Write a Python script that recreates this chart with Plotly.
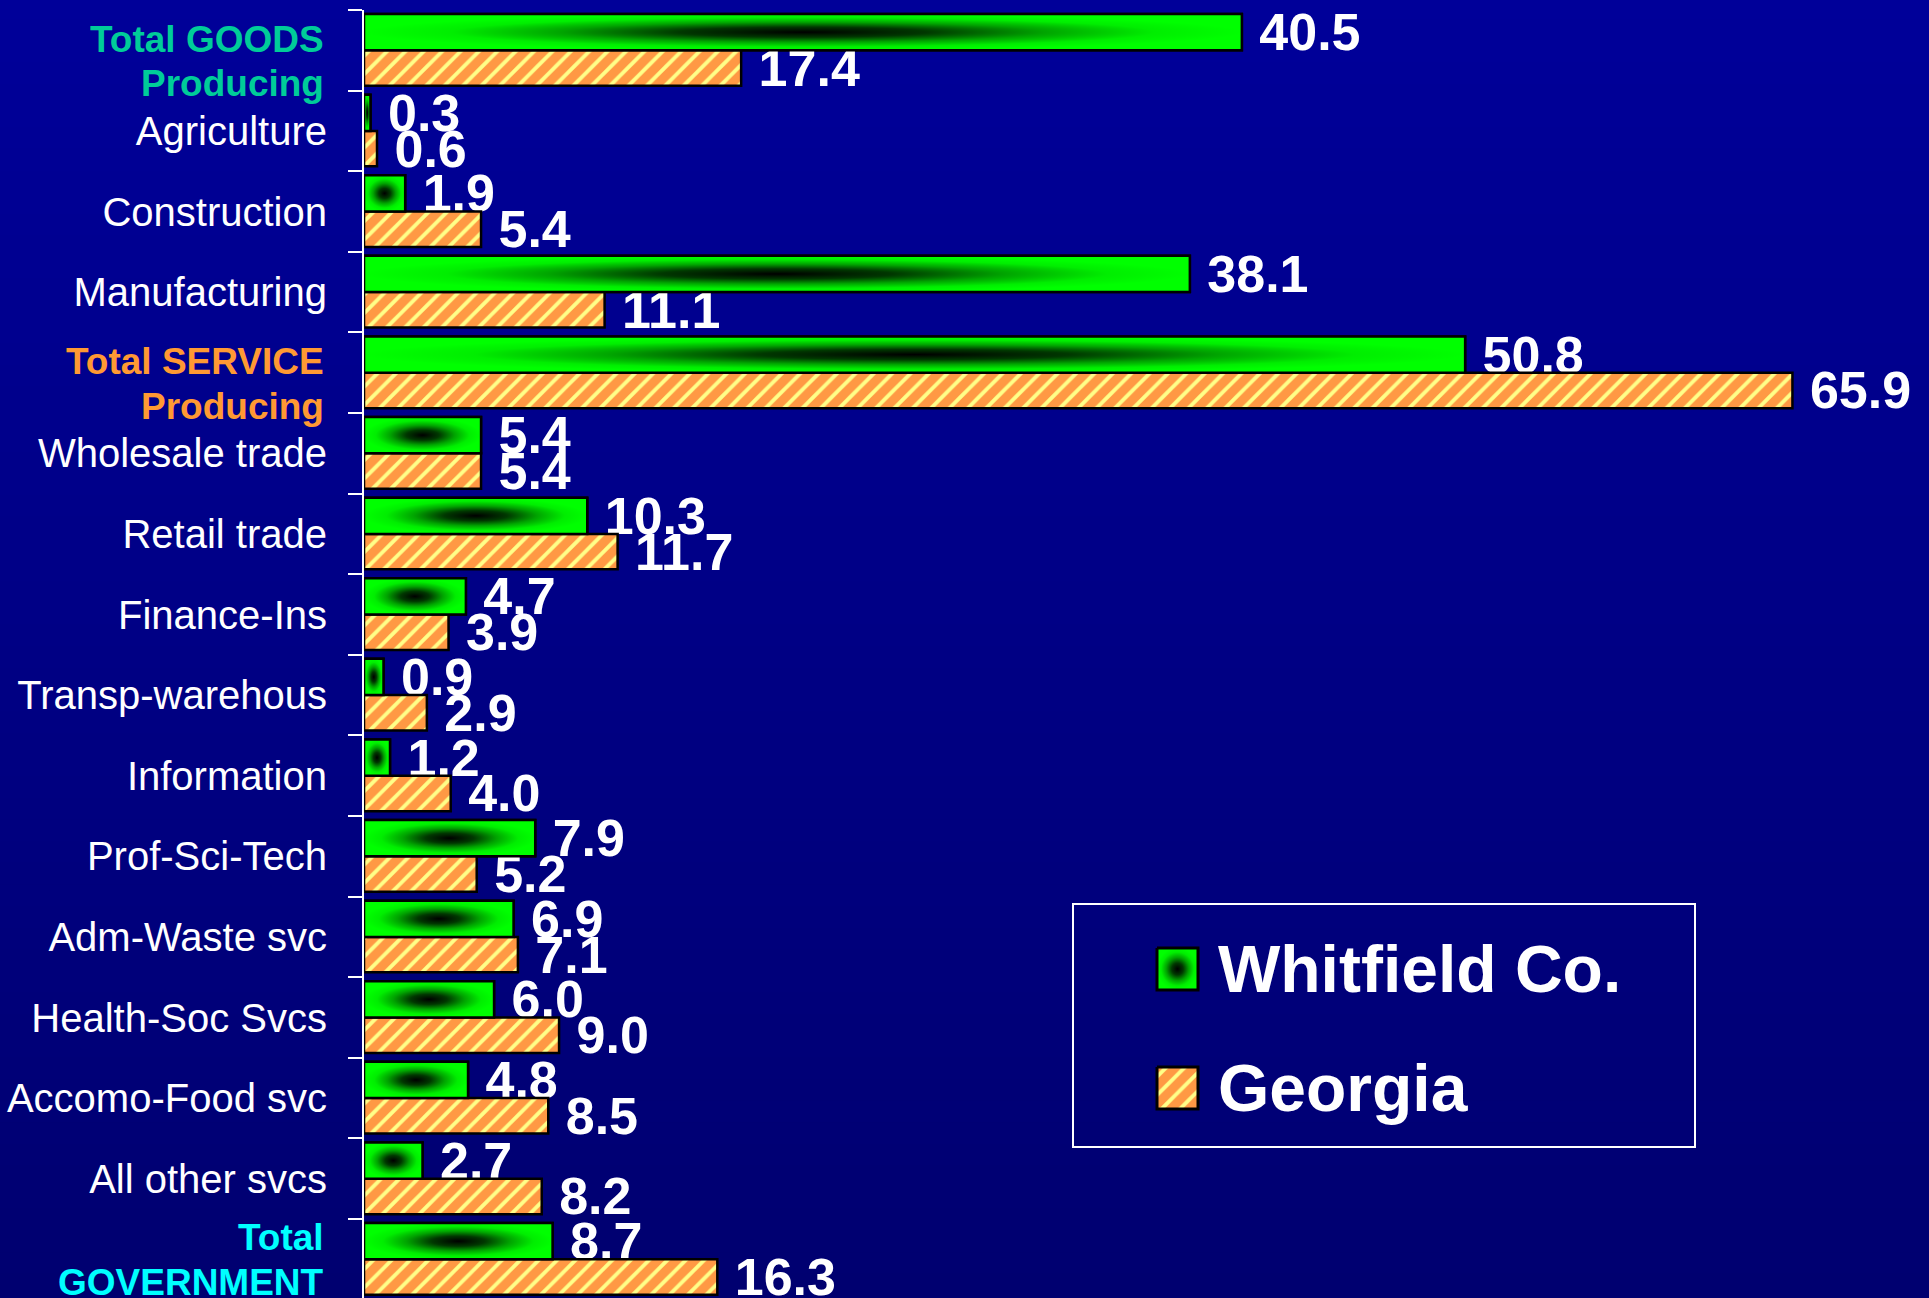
import plotly.graph_objects as go

# Employment share by industry (%), Whitfield Co. vs Georgia
categories = ["Total GOODS Producing", "Agriculture", "Construction", "Manufacturing",
              "Total SERVICE Producing", "Wholesale trade", "Retail trade", "Finance-Ins",
              "Transp-warehous", "Information", "Prof-Sci-Tech", "Adm-Waste svc",
              "Health-Soc Svcs", "Accomo-Food svc", "All other svcs", "Total GOVERNMENT"]
whitfield = [40.5, 0.3, 1.9, 38.1, 50.8, 5.4, 10.3, 4.7, 0.9, 1.2, 7.9, 6.9, 6.0, 4.8, 2.7, 8.7]
georgia = [17.4, 0.6, 5.4, 11.1, 65.9, 5.4, 11.7, 3.9, 2.9, 4.0, 5.2, 7.1, 9.0, 8.5, 8.2, 16.3]
series_names = ["Whitfield Co.", "Georgia"]

# the three totals get a two-line coloured bold label (line 1, line 2, colour, pixel shifts)
totals = {
    "Total GOODS Producing": ("Total GOODS", "Producing", "#00cc99", (11, -33)),
    "Total SERVICE Producing": ("Total SERVICE", "Producing", "#ff9933", (11, -34)),
    "Total GOVERNMENT": ("Total", "GOVERNMENT", "#00ffff", (22, -23)),
}

W, H = 1929, 1298
FONT = "Liberation Sans, Arial, sans-serif"
GREEN_GRAD = [[0, "#000000"], [0.28, "#003800"], [0.55, "#00a400"], [0.8, "#00ee00"], [1, "#00ff00"]]
HATCH = dict(shape="/", fgcolor="#ff3300", bgcolor="#ffff88", size=13, solidity=0.7)

pos = list(range(len(categories)))
ticktext = ["" if c in totals else c for c in categories]

fig = go.Figure()

fig.add_trace(go.Bar(
    x=whitfield, y=pos, orientation="h", offset=-0.45, width=0.45,
    name=series_names[0], showlegend=False,
    marker=dict(color="#00ff00", line=dict(color="black", width=2.5)),
    texttemplate="\u00a0%{x:.1f}", textposition="outside", constraintext="none",
    textfont=dict(family=FONT, size=52, color="white", weight="bold"),
    cliponaxis=False,
))
fig.add_trace(go.Bar(
    x=georgia, y=pos, orientation="h", offset=0, width=0.44,
    name=series_names[1], showlegend=False,
    marker=dict(color="#ffff88", line=dict(color="black", width=2.5), pattern=HATCH),
    texttemplate="\u00a0%{x:.1f}", textposition="outside", constraintext="none",
    textfont=dict(family=FONT, size=52, color="white", weight="bold"),
    cliponaxis=False,
))

# "from centre" gradient on top of each green bar
for p, v in zip(pos, whitfield):
    fig.add_trace(go.Scatter(
        x=[0, v, v, 0, 0], y=[p - 0.45, p - 0.45, p, p, p - 0.45],
        mode="lines", fill="toself",
        fillgradient=dict(type="radial", colorscale=GREEN_GRAD),
        line=dict(color="black", width=2.5),
        hoverinfo="skip", showlegend=False,
    ))

# legend swatches (pixel coordinates on a hidden axis pair)
fig.add_trace(go.Scatter(
    x=[1157, 1198, 1198, 1157, 1157], y=[948, 948, 990, 990, 948],
    xaxis="x2", yaxis="y2", mode="lines", fill="toself",
    fillgradient=dict(type="radial", colorscale=GREEN_GRAD),
    line=dict(color="black", width=3), hoverinfo="skip", showlegend=False,
))
fig.add_trace(go.Scatter(
    x=[1157, 1198, 1198, 1157, 1157], y=[1067, 1067, 1109, 1109, 1067],
    xaxis="x2", yaxis="y2", mode="lines", fill="toself", fillpattern=HATCH,
    line=dict(color="black", width=3), hoverinfo="skip", showlegend=False,
))

# background: vertical blue gradient
shapes = []
bands = 60
for i in range(bands):
    t = i / (bands - 1)
    b = round(153 - (153 - 112) * t)
    shapes.append(dict(type="rect", xref="paper", yref="paper", x0=0, x1=1,
                       y0=1 - (i + 1) / bands, y1=1 - i / bands + 0.002,
                       fillcolor=f"rgb(0,0,{b})", line=dict(width=0), layer="below"))
# legend frame
shapes.append(dict(type="rect", xref="x2", yref="y2", x0=1073, x1=1695, y0=904, y1=1147,
                   line=dict(color="white", width=2), fillcolor="rgba(0,0,0,0)"))

annotations = [
    dict(xref="x2", yref="y2", x=1216, y=y, text=f"<b>{name}</b>", showarrow=False,
         xanchor="left", yanchor="middle",
         font=dict(family=FONT, size=66, color="white"))
    for name, y in zip(series_names, [969, 1088])
]
# coloured total labels, one annotation per line
for p, c in zip(pos, categories):
    if c not in totals:
        continue
    l1, l2, col, shifts = totals[c]
    for line, sh in zip((l1, l2), shifts):
        annotations.append(dict(
            xref="paper", yref="y", x=326 / W, y=p, yshift=sh, text=f"<b>{line}</b>",
            showarrow=False, xanchor="right", yanchor="middle",
            font=dict(family=FONT, size=37, color=col)))

fig.update_layout(
    width=W, height=H,
    margin=dict(l=0, r=0, t=0, b=0),
    paper_bgcolor="#000099", plot_bgcolor="rgba(0,0,0,0)",
    barmode="overlay", showlegend=False,
    shapes=shapes, annotations=annotations,
    xaxis=dict(domain=[364 / W, 1], range=[0, 72.2], visible=False, fixedrange=True),
    yaxis=dict(domain=[0, 1288 / H], range=[15.48, -0.5], tickmode="array",
               tickvals=pos, ticktext=ticktext, ticks="", showgrid=False, zeroline=False,
               showline=True, linecolor="white", linewidth=2, automargin=False,
               tickfont=dict(family=FONT, size=40, color="white"),
               ticklabelstandoff=27, ticklabeloverflow="allow",
               minor=dict(tickmode="array", tickvals=[p - 0.5 for p in pos],
                          ticks="outside", ticklen=14, tickwidth=2, tickcolor="white",
                          showgrid=False)),
    xaxis2=dict(domain=[0, 1], range=[0, W], visible=False, anchor="y2", fixedrange=True),
    yaxis2=dict(domain=[0, 1], range=[H, 0], visible=False, anchor="x2", fixedrange=True),
)

fig.write_html("out.html", config={"displayModeBar": False},
               post_script="document.body.style.margin='0';document.body.style.overflow='hidden';")
